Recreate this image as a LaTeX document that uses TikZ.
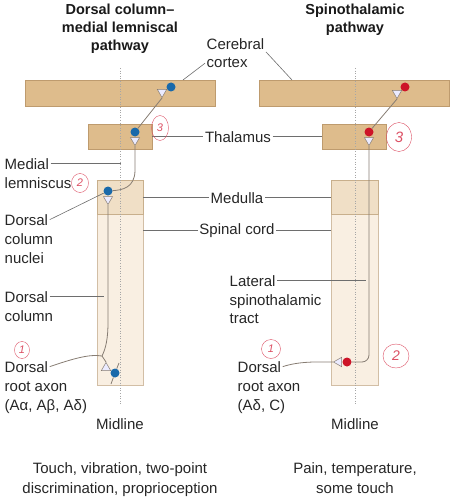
\documentclass[tikz,border=0pt]{standalone}
\usepackage{fontspec}
\setmainfont{Liberation Sans}
\usetikzlibrary{shapes.geometric}

\definecolor{cortexfill}{RGB}{222,188,140}
\definecolor{cortexedge}{RGB}{190,155,110}
\definecolor{medullafill}{RGB}{240,223,198}
\definecolor{medullaedge}{RGB}{200,175,140}
\definecolor{cordfill}{RGB}{249,239,226}
\definecolor{cordedge}{RGB}{210,190,165}
\definecolor{cellblue}{RGB}{25,105,170}
\definecolor{cellred}{RGB}{205,20,40}
\definecolor{axongray}{RGB}{135,125,115}
\definecolor{leadergray}{RGB}{110,110,110}
\definecolor{penred}{RGB}{220,80,100}

\tikzset{
  cortexbox/.style={draw=cortexedge, fill=cortexfill, inner sep=0pt},
  medbox/.style={draw=medullaedge, fill=medullafill, inner sep=0pt},
  cordbox/.style={draw=cordedge, fill=cordfill, inner sep=0pt},
  lbl/.style={font=\fontsize{15}{19}\selectfont, text=black!85, inner sep=1.5pt},
  ttl/.style={font=\fontsize{14.5}{18}\selectfont\bfseries, text=black!90, inner sep=0pt},
  leader/.style={draw=leadergray, line width=0.6pt},
  axon/.style={draw=axongray, line width=0.8pt},
  bouton/.style={isosceles triangle, isosceles triangle apex angle=60, draw=axongray,
    fill=white!92!blue, line width=0.5pt, inner sep=0pt, minimum size=8pt},
  bluecell/.style={circle, fill=cellblue, inner sep=0pt, minimum size=9pt},
  redcell/.style={circle, fill=cellred, inner sep=0pt, minimum size=9pt},
  midline/.style={draw=gray!70, dotted, line width=0.6pt},
  hand/.style={ellipse, draw=penred, line width=0.4pt, text=penred, inner sep=0pt,
    font=\fontsize{11}{11}\selectfont\itshape}
}

\begin{document}
\begin{tikzpicture}[x=1pt,y=-1pt]
\useasboundingbox (0,0) rectangle (457,500);

% titles
\node[ttl, anchor=base] (titleL1) at (120,15) {Dorsal column–};
\node[ttl, anchor=base] (titleL2) at (120,33) {medial lemniscal};
\node[ttl, anchor=base] (titleL3) at (120,51) {pathway};
\node[ttl, anchor=base] (titleR1) at (355,15) {Spinothalamic};
\node[ttl, anchor=base] (titleR2) at (355,33) {pathway};

% brain and cord
\node[cortexbox, minimum width=190, minimum height=26] (ctxL) at (120,93) {};
\node[cortexbox, minimum width=190, minimum height=26] (ctxR) at (354,93) {};
\node[cortexbox, minimum width=64, minimum height=25] (thalL) at (120,136.5) {};
\node[cortexbox, minimum width=64, minimum height=25] (thalR) at (354.5,136.5) {};
\node[cordbox, minimum width=46, minimum height=171] (cordL) at (120,299.5) {};
\node[cordbox, minimum width=47, minimum height=171] (cordR) at (354.5,299.5) {};
\node[medbox, minimum width=46, minimum height=34] (medL) at (120,197) {};
\node[medbox, minimum width=47, minimum height=34] (medR) at (354.5,197) {};

% midlines
\coordinate (mtopL) at (120,68);
\coordinate (mbotL) at (120,405);
\coordinate (mtopR) at (355,68);
\coordinate (mbotR) at (355,405);
\draw[midline] (mtopL) -- (mbotL);
\draw[midline] (mtopR) -- (mbotR);

% cells
\node[bluecell] (ctxcellL) at (171,87) {};
\node[bluecell] (thalcellL) at (135,132) {};
\node[bluecell] (medcellL) at (108,191) {};
\node[bluecell] (rootcellL) at (115,373) {};
\node[redcell] (ctxcellR) at (405,87) {};
\node[redcell] (thalcellR) at (369,132) {};
\node[redcell] (rootcellR) at (347,362) {};

% terminals
\node[bouton, shape border rotate=233, anchor=apex] (ctxtipL) at (162,98) {};
\node[bouton, shape border rotate=270, anchor=apex] (thaltipL) at (135,146) {};
\node[bouton, shape border rotate=270, anchor=apex] (medtipL) at (108,205) {};
\node[bouton, shape border rotate=124, anchor=apex] (roottipL) at (106,362) {};
\node[bouton, shape border rotate=230, anchor=apex] (ctxtipR) at (397,99) {};
\node[bouton, shape border rotate=270, anchor=apex] (thaltipR) at (369,146) {};
\node[bouton, shape border rotate=180, anchor=apex] (roottipR) at (333,362) {};

% labels, middle
\node[lbl, anchor=base west] (cereb) at (205,50) {Cerebral};
\node[lbl, anchor=base west] (cortex) at (205,68) {cortex};
\node[lbl, anchor=base] (thallbl) at (238,142) {Thalamus};
\node[lbl, anchor=base] (medlbl) at (237,203) {Medulla};
\node[lbl, anchor=base] (spinlbl) at (237,234) {Spinal cord};

% labels, left
\node[lbl, anchor=base west] (medial) at (3,169) {Medial};
\node[lbl, anchor=base west] (lemn) at (3,188) {lemniscus};
\node[lbl, anchor=base west] (dcn1) at (3,225) {Dorsal};
\node[lbl, anchor=base west] (dcn2) at (3,244) {column};
\node[lbl, anchor=base west] (dcn3) at (3,263) {nuclei};
\node[lbl, anchor=base west] (dc1) at (3,302) {Dorsal};
\node[lbl, anchor=base west] (dc2) at (3,321) {column};
\node[lbl, anchor=base west] (dra1) at (3,372) {Dorsal};
\node[lbl, anchor=base west] (dra2) at (3,391) {root axon};
\node[lbl, anchor=base west] (dra3) at (3,410) {(Aα, Aβ, Aδ)};
\node[lbl, anchor=base] (midlblL) at (120,429) {Midline};

% labels, right
\node[lbl, anchor=base west] (lat1) at (228,286) {Lateral};
\node[lbl, anchor=base west] (lat2) at (228,305) {spinothalamic};
\node[lbl, anchor=base west] (lat3) at (228,323) {tract};
\node[lbl, anchor=base west] (drr1) at (236,372) {Dorsal};
\node[lbl, anchor=base west] (drr2) at (236,391) {root axon};
\node[lbl, anchor=base west] (drr3) at (236,410) {(Aδ, C)};
\node[lbl, anchor=base] (midlblR) at (355,429) {Midline};

% captions
\node[lbl, anchor=base] (capL1) at (120,473) {Touch, vibration, two-point};
\node[lbl, anchor=base] (capL2) at (120,493) {discrimination, proprioception};
\node[lbl, anchor=base] (capR1) at (355,473) {Pain, temperature,};
\node[lbl, anchor=base] (capR2) at (355,493) {some touch};

% dorsal column pathway
\coordinate (forkL) at (102,356);
\draw[axon] (dra1.east) .. controls (75,358) and (90,354) .. (forkL);
\draw[axon] (forkL) -- (roottipL.apex);
\draw[axon] (forkL) .. controls (106,348) and (108,338) .. (108,322) -- (medtipL.apex);
\draw[axon] (rootcellL) -- ++(-4,11);
\draw[axon] (rootcellL) -- ++(4,-10);
\draw[axon] (medcellL) .. controls (122,190) and (135,188) .. (135,170) -- (thaltipL.apex);
\draw[axon] (thalcellL) -- (ctxtipL.apex);

% spinothalamic pathway
\draw[axon] (drr1.east) .. controls (300,361) and (318,362) .. (roottipR.apex);
\draw[axon, rounded corners=7] (rootcellR) -| (thaltipR.apex);
\draw[axon] (thalcellR) -- (ctxtipR.apex);

% leaders
\coordinate (ctxhookL) at (183,80);
\coordinate (ctxhookR) at (292,80);
\coordinate (lemnend) at (121,165);
\coordinate (dcend) at (104,297);
\coordinate (latend) at (366,284);
\draw[leader] (cortex.west) -- (ctxhookL);
\draw[leader] (cereb.south east) -- (ctxhookR);
\draw[leader] (thalL.east |- thallbl.west) -- (thallbl.west);
\draw[leader] (thallbl.east) -- (thallbl.east -| thalR.west);
\draw[leader] (medlbl.west -| medL.east) -- (medlbl.west);
\draw[leader] (medlbl.east) -- (medlbl.east -| medR.west);
\draw[leader] (spinlbl.west -| cordL.east) -- (spinlbl.west);
\draw[leader] (spinlbl.east) -- (spinlbl.east -| cordR.west);
\draw[leader] (medial.east) -- (medial.east -| lemnend);
\draw[leader] (dcn1.east) -- (medcellL);
\draw[leader] (dc1.east) -- (dc1.east -| dcend);
\draw[leader] (lat1.east) -- (lat1.east -| latend);

% pen marks
\node[hand, minimum width=15, minimum height=17] (oneL) at (22,350) {1};
\node[hand, minimum width=17, minimum height=19] (twoL) at (80,183) {2};
\node[hand, minimum width=17, minimum height=25] (threeL) at (160,128) {3};
\node[hand, minimum width=19, minimum height=19] (oneR) at (271,349) {1};
\node[hand, minimum width=26, minimum height=24, font=\fontsize{14}{14}\selectfont\itshape] (twoR) at (396,356) {2};
\node[hand, minimum width=25, minimum height=29, font=\fontsize{15}{15}\selectfont\itshape] (threeR) at (399,137) {3};
\end{tikzpicture}
\end{document}
